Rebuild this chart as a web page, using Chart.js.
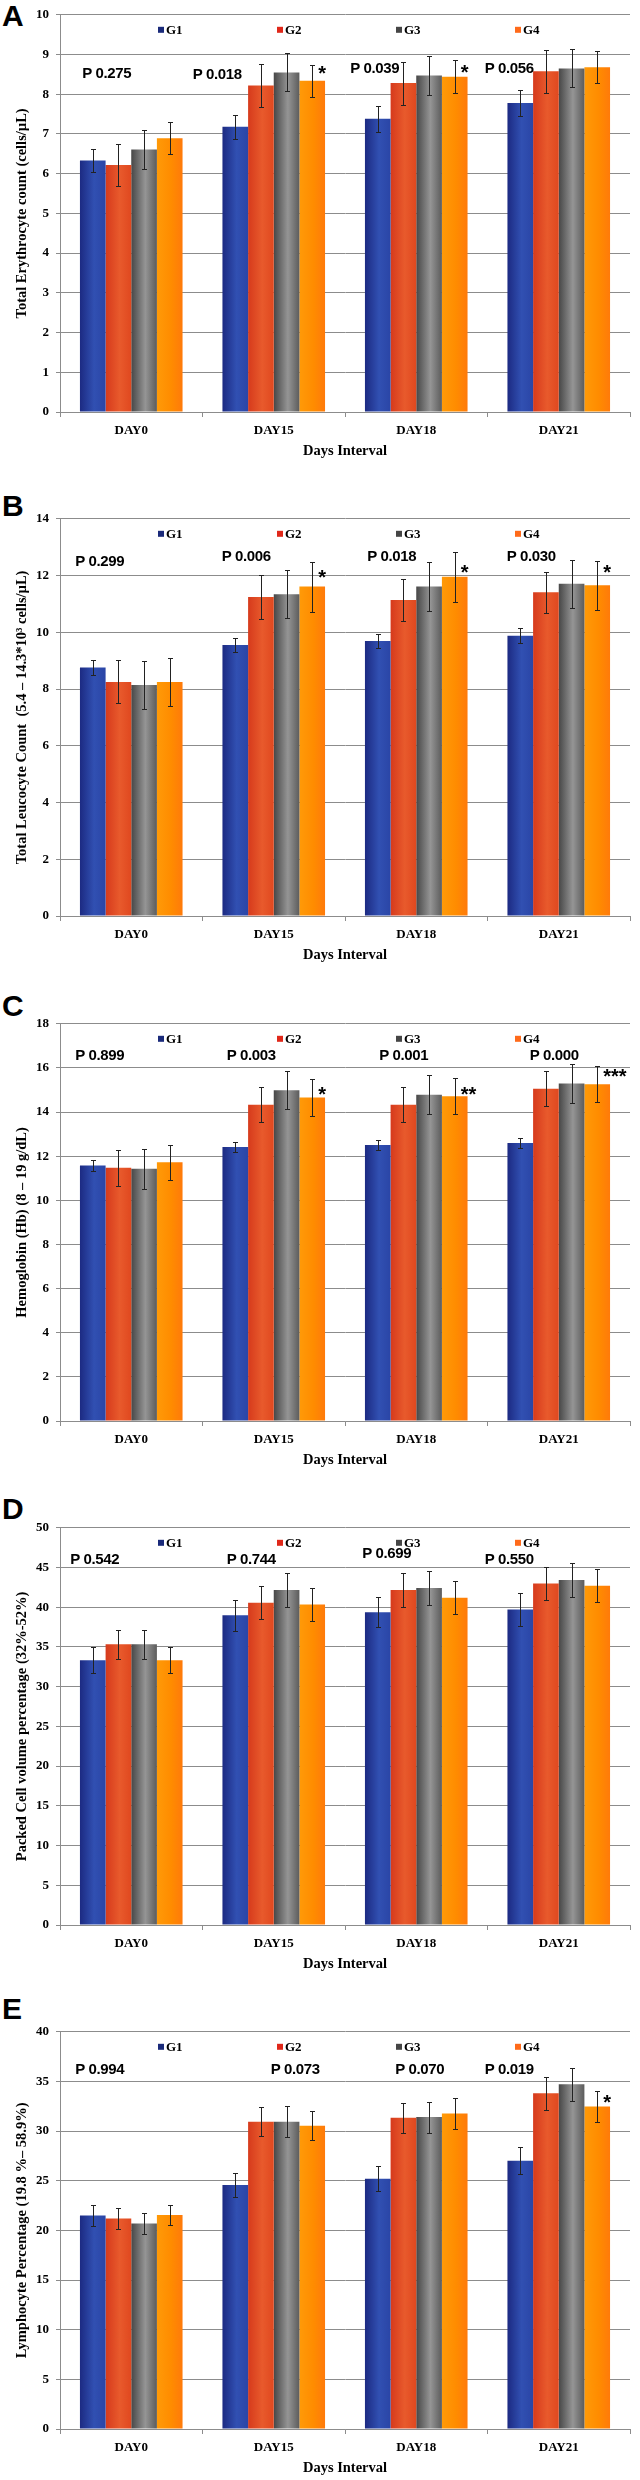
<!DOCTYPE html>
<html>
<head>
<meta charset="utf-8">
<script src="https://cdn.jsdelivr.net/npm/chart.js@4.4.0/dist/chart.umd.min.js"></script>
<style>
  body { margin: 0; background: #fff; width: 640px; height: 2480px; position: relative; overflow: hidden; }
  .panel { position: absolute; left: 0; width: 640px; height: 460px; }
  .tag { position: absolute; left: 2px; font: bold 30px 'Liberation Sans', Arial, sans-serif; line-height: 30px; color: #000; }
</style>
</head>
<body>
<div class="tag" style="top:1px">A</div>
<div class="tag" style="top:491px">B</div>
<div class="tag" style="top:991px">C</div>
<div class="tag" style="top:1494px">D</div>
<div class="tag" style="top:1994px">E</div>
<canvas class="panel" id="chartA" width="640" height="460" style="top:0px"></canvas>
<canvas class="panel" id="chartB" width="640" height="460" style="top:504px"></canvas>
<canvas class="panel" id="chartC" width="640" height="460" style="top:1009px"></canvas>
<canvas class="panel" id="chartD" width="640" height="460" style="top:1513px"></canvas>
<canvas class="panel" id="chartE" width="640" height="460" style="top:2017px"></canvas>

<script>
const days = ['DAY0', 'DAY15', 'DAY18', 'DAY21'];
const groups = ['G1', 'G2', 'G3', 'G4'];

// A - total erythrocyte count, one row per group (G1..G4), one value per day
const rbcMean = [[6.33, 7.18, 7.38, 7.78], [6.22, 8.22, 8.28, 8.58], [6.61, 8.55, 8.47, 8.65], [6.89, 8.34, 8.44, 8.68]];
const rbcErr = [[0.30, 0.30, 0.32, 0.32], [0.53, 0.54, 0.54, 0.54], [0.49, 0.48, 0.49, 0.48], [0.40, 0.40, 0.41, 0.40]];
const rbcP = ['P 0.275', 'P 0.018', 'P 0.039', 'P 0.056'];
const rbcStars = ['', '*', '*', ''];

// B - total leucocyte count
const wbcMean = [[8.76, 9.55, 9.69, 9.88], [8.25, 11.24, 11.14, 11.41], [8.14, 11.34, 11.61, 11.71], [8.25, 11.61, 11.96, 11.66]];
const wbcErr = [[0.25, 0.26, 0.26, 0.26], [0.76, 0.77, 0.73, 0.73], [0.84, 0.85, 0.85, 0.85], [0.86, 0.88, 0.88, 0.87]];
const wbcP = ['P 0.299', 'P 0.006', 'P 0.018', 'P 0.030'];
const wbcStars = ['', '*', '*', '*'];

// C - hemoglobin
const hbMean = [[11.58, 12.42, 12.51, 12.60], [11.48, 14.33, 14.33, 15.06], [11.43, 14.99, 14.79, 15.30], [11.73, 14.66, 14.72, 15.26]];
const hbErr = [[0.24, 0.24, 0.24, 0.24], [0.81, 0.80, 0.80, 0.80], [0.90, 0.87, 0.89, 0.89], [0.80, 0.82, 0.81, 0.82]];
const hbP = ['P 0.899', 'P 0.003', 'P 0.001', 'P 0.000'];
const hbStars = ['', '*', '**', '***'];

// D - packed cell volume
const pcvMean = [[33.33, 39.00, 39.38, 39.71], [35.33, 40.58, 42.17, 43.00], [35.33, 42.17, 42.42, 43.42], [33.33, 40.33, 41.21, 42.71]];
const pcvErr = [[1.67, 1.96, 1.92, 2.04], [1.80, 2.04, 2.12, 2.12], [1.80, 2.12, 2.12, 2.17], [1.67, 2.04, 2.04, 2.08]];
const pcvP = ['P 0.542', 'P 0.744', 'P 0.699', 'P 0.550'];
const pcvStars = ['', '', '', ''];

// E - lymphocyte percentage
const lymMean = [[21.50, 24.56, 25.19, 27.02], [21.20, 30.95, 31.35, 33.81], [20.70, 30.95, 31.41, 34.71], [21.56, 30.55, 31.78, 32.48]];
const lymErr = [[1.10, 1.23, 1.27, 1.37], [1.06, 1.43, 1.53, 1.66], [1.10, 1.53, 1.57, 1.66], [1.04, 1.43, 1.60, 1.60]];
const lymP = ['P 0.994', 'P 0.073', 'P 0.070', 'P 0.019'];
const lymStars = ['', '', '', '*'];

const yMax = [10, 14, 18, 50, 40];
const yStep = [1, 2, 2, 5, 5];
const yTitles = [
  'Total Erythrocyte count (cells/\u00b5L)',
  'Total Leucocyte Count  (5.4 \u2013 14.3*10\u00b3 cells/\u00b5L)',
  'Hemoglobin (Hb) (8 \u2013 19 g/dL)',
  'Packed Cell volume percentage (32%-52%)',
  'Lymphocyte Percentage (19.8 %\u2013 58.9%)'
];

// placement of the P labels: x shift from category centre (px), y in data units
const pShift = [[-49, -81, -66, -74], [-56, -52, -49, -52], [-56, -47, -37, -29], [-61, -47, -54, -74], [-56, -3, -21, -74]];
const pLevel = [[8.53, 8.5, 8.67, 8.67], [12.5, 12.7, 12.7, 12.7], [16.6, 16.6, 16.6, 16.6], [46.1, 46.1, 46.8, 46.1], [36.3, 36.3, 36.3, 36.3]];
const starLevel = [[0, 8.6, 8.63, 0], [0, 12.04, 12.24, 12.24], [0, 14.95, 14.95, 15.75], [0, 0, 0, 0], [0, 0, 0, 33.2]];

const barStops = [
  ['#1c2a82', '#3150b2', '#2a45a6'],
  ['#d63a1c', '#e85a2c', '#e0481f'],
  ['#474747', '#959595', '#5c5c5c'],
  ['#ff9a08', '#ff8c00', '#ff7a0a']
];
const keyColors = ['#1a2a7a', '#e0281a', '#454545', '#ff6a1a'];
const gridColor = '#8c8c8c';
const serif = "'Liberation Serif', 'Times New Roman', serif";
const sans = "'Liberation Sans', Arial, sans-serif";

function barFill(stops) {
  return (c) => {
    const el = c.element;
    if (!el || !isFinite(el.x) || !el.width) return stops[1];
    const g = c.chart.ctx.createLinearGradient(el.x - el.width / 2, 0, el.x + el.width / 2, 0);
    g.addColorStop(0, stops[0]);
    g.addColorStop(0.55, stops[1]);
    g.addColorStop(1, stops[2]);
    return g;
  };
}

function centredText(ctx, text, x, yc) {
  const m = ctx.measureText(text);
  const base = yc + (m.actualBoundingBoxAscent - m.actualBoundingBoxDescent) / 2;
  ctx.fillText(text, x, base);
}

const extras = {
  id: 'extras',
  afterDatasetsDraw(chart) {
    const { ctx, chartArea } = chart;
    const xs = chart.scales.x, ys = chart.scales.y;
    const o = chart.options.plugins.extras;
    ctx.save();

    // error bars
    ctx.strokeStyle = '#222';
    ctx.lineWidth = 1;
    chart.data.datasets.forEach((ds, di) => {
      chart.getDatasetMeta(di).data.forEach((bar, i) => {
        const v = ds.data[i], e = ds.err[i];
        const top = Math.round(ys.getPixelForValue(v + e)) + 0.5;
        const bot = Math.round(ys.getPixelForValue(v - e)) + 0.5;
        const x = Math.round(bar.x) + 0.5;
        ctx.beginPath();
        ctx.moveTo(x, top); ctx.lineTo(x, bot);
        ctx.moveTo(x - 2.5, top); ctx.lineTo(x + 2.5, top);
        ctx.moveTo(x - 2.5, bot); ctx.lineTo(x + 2.5, bot);
        ctx.stroke();
      });
    });

    // legend inside the plot
    ctx.font = 'bold 13px ' + serif;
    ctx.fillStyle = '#000';
    groups.forEach((g, i) => {
      const lx = chartArea.left + 98 + i * 119;
      const ly = chartArea.top + 15;
      ctx.fillStyle = keyColors[i];
      ctx.fillRect(lx, ly - 3, 6, 6);
      ctx.fillStyle = '#000';
      ctx.textAlign = 'left';
      centredText(ctx, g, lx + 8, ly);
    });

    // P values
    ctx.font = 'bold 15px ' + sans;
    ctx.letterSpacing = '-0.4px';
    o.p.forEach((t, i) => {
      centredText(ctx, t, xs.getPixelForValue(i) + o.pShift[i], ys.getPixelForValue(o.pLevel[i]));
    });
    ctx.letterSpacing = '0px';

    // significance stars next to G4
    ctx.font = 'bold 20px ' + sans;
    const g4 = chart.getDatasetMeta(3).data;
    o.stars.forEach((s, i) => {
      if (!s) return;
      centredText(ctx, s, g4[i].x + 6, ys.getPixelForValue(o.starLevel[i]));
    });
    ctx.restore();
  }
};

function makePanel(id, k, mean, err, p, stars) {
  const datasets = groups.map((g, gi) => ({
    label: g,
    data: mean[gi],
    err: err[gi],
    backgroundColor: barFill(barStops[gi]),
    borderWidth: 0,
    categoryPercentage: 0.72,
    barPercentage: 1.0
  }));

  const chart = new Chart(document.getElementById(id), {
    type: 'bar',
    data: { labels: days, datasets },
    options: {
      responsive: false,
      animation: false,
      layout: { padding: { left: 0, right: 10, top: 12, bottom: 0 } },
      plugins: {
        legend: { display: false },
        tooltip: { enabled: false },
        extras: { p, pShift: pShift[k], pLevel: pLevel[k], stars, starLevel: starLevel[k] }
      },
      scales: {
        x: {
          grid: { drawOnChartArea: false, drawTicks: true, tickLength: 5, offset: true, color: gridColor },
          border: { display: true, color: gridColor },
          ticks: { color: '#000', font: { family: serif, size: 13, weight: 'bold' }, padding: 6 },
          title: { display: true, text: 'Days Interval', color: '#000', font: { family: serif, size: 14.5, weight: 'bold' }, padding: { top: 0, bottom: 0 } },
          afterFit(s) { s.height = 48; }
        },
        y: {
          min: 0,
          max: yMax[k],
          ticks: { stepSize: yStep[k], color: '#000', font: { family: serif, size: 13, weight: 'bold' }, padding: 7 },
          grid: { color: gridColor, tickLength: 4, lineWidth: 1 },
          border: { display: true, color: gridColor },
          title: { display: true, text: yTitles[k], color: '#000', font: { family: serif, size: 14.5, weight: 'bold' }, padding: { top: 14, bottom: 0 } },
          afterFit(s) { s.width = 60; }
        }
      }
    },
    plugins: [extras]
  });
  // second pass so the bar gradients know their element geometry
  chart.update('none');
  return chart;
}

makePanel('chartA', 0, rbcMean, rbcErr, rbcP, rbcStars);
makePanel('chartB', 1, wbcMean, wbcErr, wbcP, wbcStars);
makePanel('chartC', 2, hbMean, hbErr, hbP, hbStars);
makePanel('chartD', 3, pcvMean, pcvErr, pcvP, pcvStars);
makePanel('chartE', 4, lymMean, lymErr, lymP, lymStars);
</script>
</body>
</html>
